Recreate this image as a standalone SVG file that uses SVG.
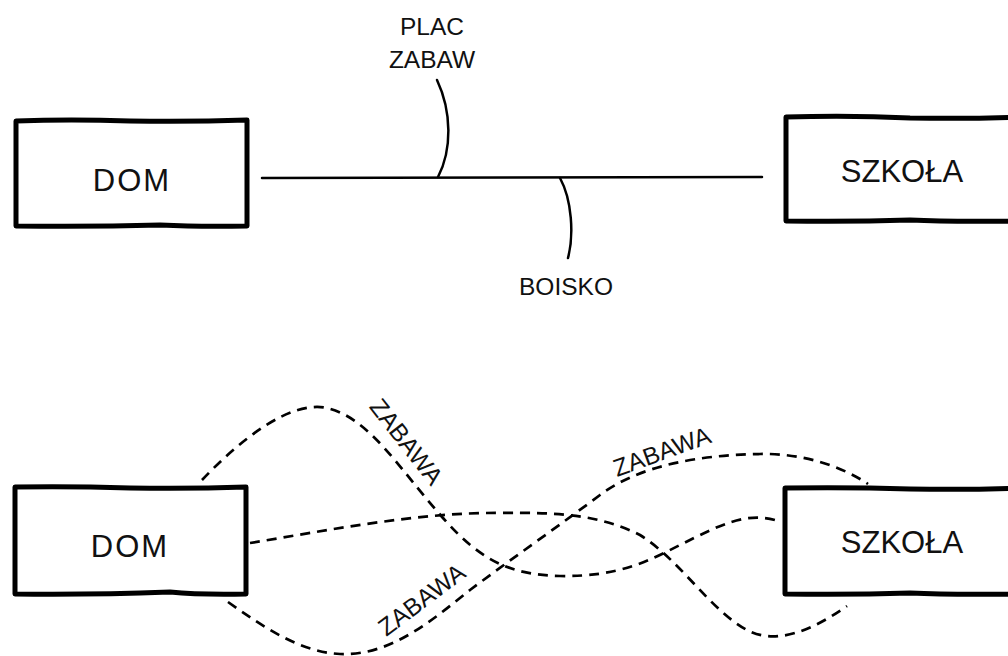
<svg xmlns="http://www.w3.org/2000/svg" width="1008" height="656" viewBox="0 0 1008 656">
<style>
.box{fill:#fff;stroke:#000;stroke-width:5;stroke-linejoin:round}
.big{font-family:"Liberation Sans",Arial,sans-serif;font-size:31px;fill:#111;text-anchor:middle}
.dom{letter-spacing:2px}
.lbl{font-family:"Liberation Sans",Arial,sans-serif;font-size:24.5px;fill:#111;text-anchor:middle}
.ln{fill:none;stroke:#000;stroke-width:2.5;stroke-linecap:round}
.dash{fill:none;stroke:#000;stroke-width:2.7;stroke-dasharray:10 7}
</style>
<rect width="1008" height="656" fill="#fff"/>
<g id="connectors">
<path class="ln" d="M262,178 L762,177"/>
<path class="ln" d="M437,80 C452,112 452,150 438,177"/>
<path class="ln" d="M560,178 C572,200 574,235 568,258"/>
<path class="dash" d="M202,480 C240,440 290,400 327,408 C370,418 400,470 443,518 C480,560 510,575 560,576 C620,577 650,560 680,545 C720,525 745,512 775,520"/>
<path class="dash" d="M250,543 C330,530 420,512 500,513 C560,512 600,515 640,535 C680,560 710,610 747,630 C775,645 810,632 847,606"/>
<path class="dash" d="M228,602 C265,628 300,652 340,654 C390,656 430,622 470,590 C510,560 560,525 600,495 C640,465 700,455 760,454 C800,453 840,465 868,484"/>
</g>
<g id="labels">
<text class="lbl" x="432" y="35">PLAC</text>
<text class="lbl" x="432" y="68">ZABAW</text>
<text class="lbl" x="566" y="295">BOISKO</text>
<text class="lbl" transform="translate(406,442) rotate(52)" y="8">ZABAWA</text>
<text class="lbl" transform="translate(422,600) rotate(-37)" y="8">ZABAWA</text>
<text class="lbl" transform="translate(662,452) rotate(-20)" y="8">ZABAWA</text>
</g>
<g id="dom-top">
<path class="box" d="M16,121 Q70,119 130,121 Q190,122 247,120 L247,226 Q200,227 160,225 Q90,227 16,226 Z"/>
<text class="big dom" x="132" y="191">DOM</text>
</g>
<g id="szkola-top">
<path class="box" d="M786,117 Q850,115 910,118 Q970,119 1020,117 L1020,221 Q950,222 910,220 Q850,222 786,221 Z"/>
<text class="big" x="902" y="182">SZKOŁA</text>
</g>
<g id="dom-bottom">
<path class="box" d="M15,487 Q70,486 130,488 Q190,489 246,487 L246,594 Q200,595 170,592 Q90,595 15,594 Z"/>
<text class="big dom" x="130" y="557">DOM</text>
</g>
<g id="szkola-bottom">
<path class="box" d="M785,488 Q850,487 910,489 Q970,490 1020,488 L1020,594 Q950,595 910,593 Q850,595 785,594 Z"/>
<text class="big" x="902" y="553">SZKOŁA</text>
</g>
</svg>
